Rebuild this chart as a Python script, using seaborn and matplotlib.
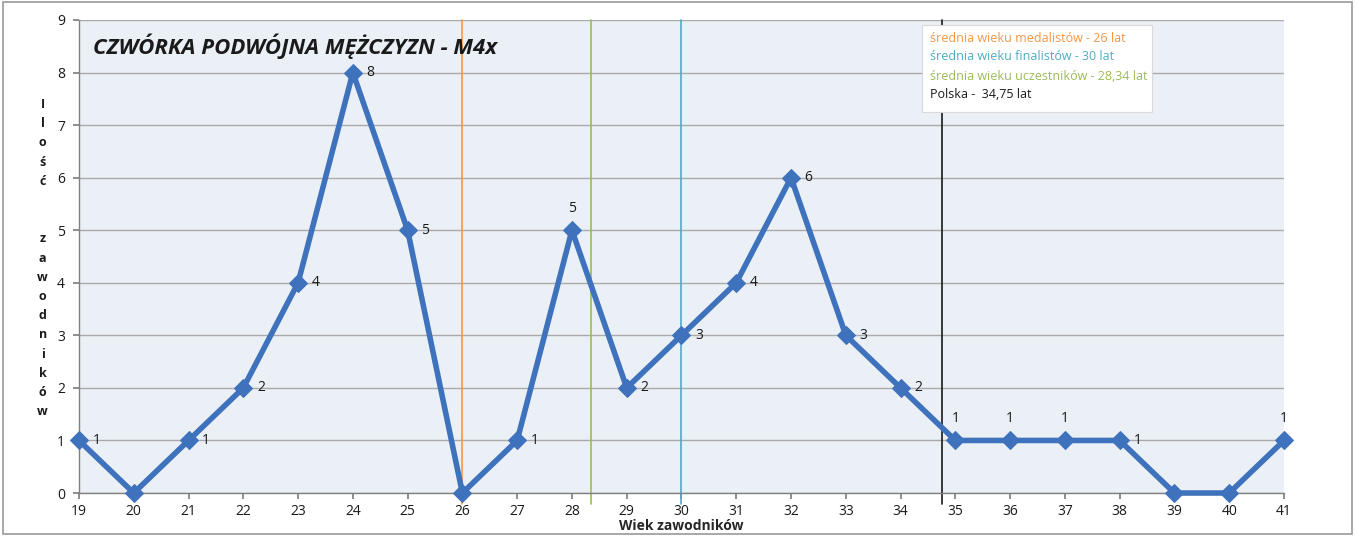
import matplotlib
matplotlib.use("Agg")
import matplotlib.pyplot as plt
import seaborn as sns
import pandas as pd
from matplotlib.patches import Rectangle

ages = list(range(19, 42))
counts = [1, 0, 1, 2, 4, 8, 5, 0, 1, 5, 2, 3, 4, 6, 3, 2, 1, 1, 1, 1, 0, 0, 1]
label_above = [28, 35, 36, 37, 41]

mean_lines = [
    ("średnia wieku medalistów - 26 lat", 26.0, "#f79646"),
    ("średnia wieku finalistów - 30 lat", 30.0, "#4bacc6"),
    ("średnia wieku uczestników - 28,34 lat", 28.34, "#9bbb59"),
    ("Polska -  34,75 lat", 34.75, "#1a1a1a"),
]

title = "CZWÓRKA PODWÓJNA MĘŻCZYZN - M4x"
xlabel = "Wiek zawodników"
ylabel = "Ilość  zawodników"

sns.set_theme(style="white")
plt.rcParams["font.family"] = ["Open Sans", "DejaVu Sans"]

df = pd.DataFrame({"wiek": ages, "liczba": counts})

fig = plt.figure(figsize=(13.55, 5.36), dpi=100)
fig.patch.set_facecolor("white")
ax = fig.add_axes([0.0583, 0.0802, 0.8893, 0.8825])
ax.set_facecolor("#ebf0f6")

for y in range(0, 10):
    ax.axhline(y, color="#aaaaaa", lw=1.0, zorder=1)

# vertical lines for average ages
for name, xv, col in mean_lines:
    ax.plot([xv, xv], [-0.2, 9], color=col, lw=1.2, zorder=2, clip_on=False)

sns.lineplot(data=df, x="wiek", y="liczba", ax=ax, color="#3f72bd",
             lw=4, marker="D", markersize=9, markeredgecolor="#3f72bd",
             zorder=3, clip_on=False)

for a, c in zip(ages, counts):
    if c == 0:
        continue
    if a in label_above:
        ax.text(a, c + 0.28, str(c), ha="center", va="bottom", fontsize=10,
                color="#1a1a1a", zorder=4)
    else:
        ax.text(a + 0.25, c, str(c), ha="left", va="center", fontsize=10,
                color="#1a1a1a", zorder=4)

ax.set_xlim(19, 41)
ax.set_ylim(0, 9)
ax.set_xticks(ages)
ax.set_yticks(range(0, 10))
ax.tick_params(axis="x", length=4, color="#808080", labelsize=10,
               colors="#1a1a1a", direction="out", pad=4)
ax.tick_params(axis="y", length=4, color="#808080", labelsize=10,
               colors="#1a1a1a", direction="out", pad=6)
ax.tick_params(axis="x", bottom=True)
ax.tick_params(axis="y", left=True)
for s in ["top", "right"]:
    ax.spines[s].set_visible(False)
for s in ["left", "bottom"]:
    ax.spines[s].set_color("#808080")
    ax.spines[s].set_linewidth(1.0)

ax.set_xlabel(xlabel, fontsize=10, fontweight="bold", labelpad=0)
ax.set_ylabel("")

# stacked vertical letters for the y-axis title
stacked = "\n".join(ch if ch != " " else "" for ch in ylabel)
fig.text(0.0315, 1 - 258 / 536, stacked, ha="center", va="center",
         fontsize=9, fontweight="bold", linespacing=1.62, color="#1a1a1a")

ax.text(0.012, 0.972, title, transform=ax.transAxes, fontsize=16,
        fontweight="bold", fontstyle="italic", ha="left", va="top",
        color="#1a1a1a")

# legend box with coloured entries
box_x0, box_y0 = 922 / 1355, 1 - 112 / 536
box_w, box_h = (1152 - 922) / 1355, (112 - 25) / 536
fig.patches.append(Rectangle((box_x0, box_y0), box_w, box_h,
                             transform=fig.transFigure, facecolor="white",
                             edgecolor="#d9d9d9", lw=0.8, zorder=5))
for i, (name, xv, col) in enumerate(mean_lines):
    fig.text(930 / 1355, 1 - (38 + i * 19) / 536, name, color=col,
             fontsize=9, ha="left", va="center", zorder=6)

fig.patches.append(Rectangle((0.002, 0.003), 0.996, 0.994,
                             transform=fig.transFigure, facecolor="none",
                             edgecolor="#9a9a9a", lw=1.2))

fig.savefig("out.png", dpi=100)
